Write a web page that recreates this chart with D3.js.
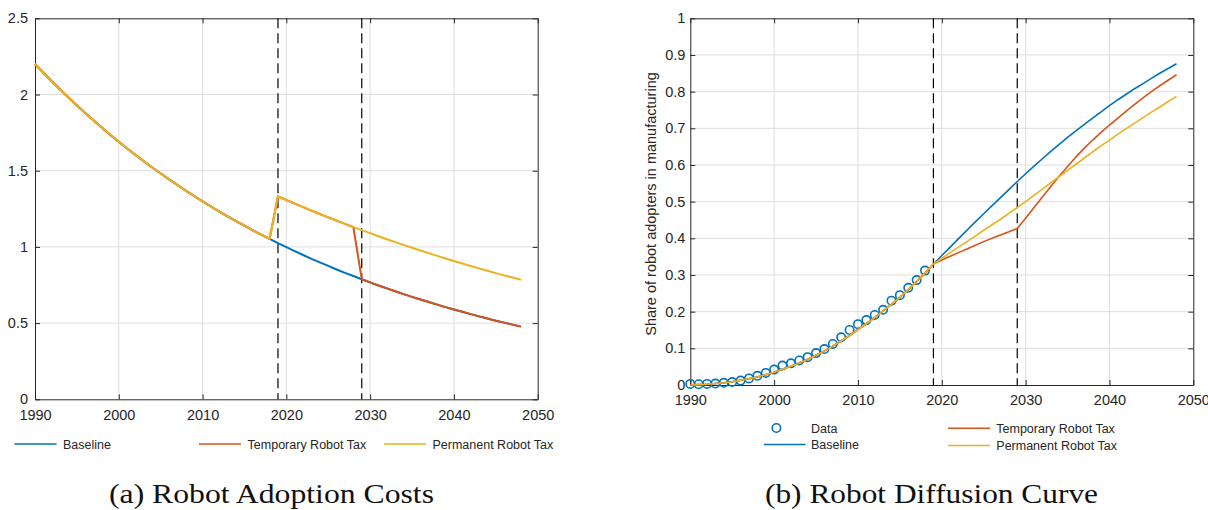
<!DOCTYPE html>
<html>
<head>
<meta charset="utf-8">
<script src="https://cdn.jsdelivr.net/npm/d3@7"></script>
<style>
  body { margin: 0; background: #fff; }
  svg { display: block; }
  text { font-family: "Liberation Sans", Arial, sans-serif; fill: #262626; }
  text.caption { font-family: "Liberation Serif", "DejaVu Serif", serif; fill: #111; }
</style>
</head>
<body>
<script>
// ---- data ----
var years = d3.range(1990, 2049);          // 1990 .. 2048
var dataYears = d3.range(1990, 2019);      // 1990 .. 2018
var xTicks = [1990, 2000, 2010, 2020, 2030, 2040, 2050];
var taxYears = [2019, 2029];

// (a) robot adoption costs
var costCommon = [2.200, 2.143, 2.087, 2.033, 1.980, 1.928, 1.878, 1.829, 1.782, 1.735,
                  1.690, 1.646, 1.604, 1.562, 1.521, 1.482, 1.443, 1.406, 1.369, 1.334,
                  1.299, 1.265, 1.232, 1.200, 1.169, 1.139, 1.109, 1.080, 1.052];
var costBaseline = costCommon.concat([1.025, 0.998, 0.972, 0.947, 0.922, 0.898, 0.875, 0.852, 0.830, 0.809,
                  0.788, 0.767, 0.747, 0.728, 0.709, 0.690, 0.672, 0.655, 0.638, 0.621,
                  0.605, 0.589, 0.574, 0.559, 0.544, 0.530, 0.516, 0.503, 0.490, 0.477]);
var costTemporary = costCommon.concat([1.332, 1.308, 1.284, 1.261, 1.238, 1.216, 1.194, 1.172, 1.151, 1.130,
                  0.788, 0.767, 0.747, 0.728, 0.709, 0.690, 0.672, 0.655, 0.638, 0.621,
                  0.605, 0.589, 0.574, 0.559, 0.544, 0.530, 0.516, 0.503, 0.490, 0.477]);
var costPermanent = costCommon.concat([1.332, 1.308, 1.284, 1.261, 1.238, 1.216, 1.194, 1.172, 1.151, 1.130,
                  1.110, 1.090, 1.070, 1.050, 1.031, 1.013, 0.994, 0.976, 0.959, 0.941,
                  0.924, 0.908, 0.891, 0.875, 0.859, 0.844, 0.828, 0.813, 0.799, 0.784]);
var costTicks = [0, 0.5, 1, 1.5, 2, 2.5];

// (b) robot diffusion curve
var shareData = [0.003, 0.002, 0.003, 0.004, 0.006, 0.008, 0.012, 0.018, 0.025, 0.033,
                 0.042, 0.053, 0.059, 0.067, 0.076, 0.087, 0.098, 0.112, 0.130, 0.150,
                 0.166, 0.177, 0.191, 0.205, 0.230, 0.245, 0.265, 0.286, 0.312];
var shareFit = [0.000, 0.001, 0.002, 0.004, 0.006, 0.009, 0.013, 0.017, 0.022, 0.028,
                0.035, 0.043, 0.051, 0.060, 0.070, 0.081, 0.093, 0.106, 0.120, 0.135,
                0.151, 0.167, 0.184, 0.202, 0.220, 0.239, 0.260, 0.282, 0.305];
var shareBaseline = shareFit.concat([0.330, 0.353, 0.376, 0.399, 0.422, 0.445, 0.467, 0.489, 0.511, 0.533,
                0.555, 0.576, 0.597, 0.617, 0.637, 0.656, 0.675, 0.693, 0.711, 0.728,
                0.745, 0.762, 0.778, 0.793, 0.808, 0.822, 0.836, 0.850, 0.863, 0.876]);
var shareTemporary = shareFit.concat([0.330, 0.341, 0.351, 0.361, 0.371, 0.381, 0.391, 0.400, 0.409, 0.418,
                0.427, 0.455, 0.484, 0.513, 0.541, 0.569, 0.596, 0.622, 0.646, 0.668,
                0.689, 0.709, 0.728, 0.747, 0.765, 0.783, 0.800, 0.816, 0.831, 0.846]);
var sharePermanent = shareFit.concat([0.330, 0.345, 0.361, 0.376, 0.391, 0.406, 0.422, 0.437, 0.452, 0.468,
                0.484, 0.500, 0.517, 0.534, 0.551, 0.568, 0.585, 0.602, 0.619, 0.636,
                0.652, 0.668, 0.684, 0.699, 0.714, 0.729, 0.744, 0.758, 0.773, 0.787]);
var shareTicks = [0, 0.1, 0.2, 0.3, 0.4, 0.5, 0.6, 0.7, 0.8, 0.9, 1];

var seriesNames = ["Baseline", "Temporary Robot Tax", "Permanent Robot Tax"];
var colors = ["#0072BD", "#D95319", "#EDB120"];

var svg = d3.select("body").append("svg")
    .attr("width", 1208)
    .attr("height", 510);

function drawPanel(p) {
  var x = d3.scaleLinear().domain([1990, 2050]).range([p.left, p.right]);
  var y = d3.scaleLinear().domain(p.yDomain).range([p.bottom, p.top]);
  var g = svg.append("g");

  // grid
  g.selectAll(".gx").data(xTicks.slice(1, -1)).enter().append("line")
    .attr("x1", d => x(d)).attr("x2", d => x(d))
    .attr("y1", p.top).attr("y2", p.bottom)
    .attr("stroke", "#dedede").attr("stroke-width", 1);
  g.selectAll(".gy").data(p.yTicks.slice(1, -1)).enter().append("line")
    .attr("x1", p.left).attr("x2", p.right)
    .attr("y1", d => y(d)).attr("y2", d => y(d))
    .attr("stroke", "#dedede").attr("stroke-width", 1);

  // axes (box, ticks inside on all sides)
  var tl = 5;
  g.append("g").attr("transform", "translate(0," + p.bottom + ")")
    .call(d3.axisBottom(x).tickValues(xTicks).tickSizeInner(-tl).tickSizeOuter(0).tickPadding(10).tickFormat(d3.format("d")));
  g.append("g").attr("transform", "translate(0," + p.top + ")")
    .call(d3.axisTop(x).tickValues(xTicks).tickSizeInner(-tl).tickSizeOuter(0).tickFormat(""));
  g.append("g").attr("transform", "translate(" + p.left + ",0)")
    .call(d3.axisLeft(y).tickValues(p.yTicks).tickSizeInner(-tl).tickSizeOuter(0).tickPadding(p.yPad).tickFormat(d => String(+d.toFixed(1))));
  g.append("g").attr("transform", "translate(" + p.right + ",0)")
    .call(d3.axisRight(y).tickValues(p.yTicks).tickSizeInner(-tl).tickSizeOuter(0).tickFormat(""));
  g.selectAll(".domain").attr("stroke", "#262626").attr("stroke-width", 1);
  g.selectAll(".tick line").attr("stroke", "#262626");
  g.selectAll(".tick text").attr("font-size", 14.5).attr("fill", "#262626");

  // dashed tax lines
  g.selectAll(".tax").data(taxYears).enter().append("line")
    .attr("x1", d => x(d)).attr("x2", d => x(d))
    .attr("y1", p.top).attr("y2", p.bottom)
    .attr("stroke", "#000").attr("stroke-width", 1.2)
    .attr("stroke-dasharray", "10,5");

  // markers, if any, go under the lines
  if (p.before) p.before(g, x, y);

  // series
  var line = d3.line().x((d, i) => x(years[i])).y(d => y(d));
  p.series.forEach(function (s, k) {
    g.append("path").datum(s)
      .attr("d", line)
      .attr("fill", "none")
      .attr("stroke", colors[k])
      .attr("stroke-width", p.lw)
      .attr("stroke-linejoin", "round");
  });
}

// ---- panel (a) ----
drawPanel({
  left: 35, right: 537.7, top: 18.3, bottom: 399.3,
  yDomain: [0, 2.5], yTicks: costTicks, yPad: 7, lw: 2,
  series: [costBaseline, costTemporary, costPermanent]
});

// ---- panel (b) ----
drawPanel({
  left: 690.3, right: 1193.3, top: 18.3, bottom: 385,
  yDomain: [0, 1], yTicks: shareTicks, yPad: 5, lw: 1.6,
  series: [shareBaseline, shareTemporary, sharePermanent],
  before: function (g, x, y) {
    g.append("g").selectAll("circle").data(shareData).enter().append("circle")
      .attr("cx", (d, i) => x(dataYears[i]))
      .attr("cy", d => y(d))
      .attr("r", 4.2)
      .attr("fill", "none")
      .attr("stroke", "#0072BD")
      .attr("stroke-width", 1.6);
  }
});

svg.append("text")
  .attr("transform", "translate(656,204) rotate(-90)")
  .attr("text-anchor", "middle")
  .attr("font-size", 14.5)
  .text("Share of robot adopters in manufacturing");

// ---- legends ----
var legA = [
  { x1: 14.5, x2: 56.6, tx: 63, y: 444 },
  { x1: 199, x2: 241, tx: 247.6, y: 444 },
  { x1: 384, x2: 426, tx: 432.5, y: 444 }
];
legA.forEach(function (l, k) {
  svg.append("line").attr("x1", l.x1).attr("x2", l.x2).attr("y1", l.y).attr("y2", l.y)
    .attr("stroke", colors[k]).attr("stroke-width", 1.6);
  svg.append("text").attr("x", l.tx).attr("y", l.y + 4.5).attr("font-size", 12.5).text(seriesNames[k]);
});

svg.append("circle").attr("cx", 776.4).attr("cy", 428).attr("r", 4.2)
  .attr("fill", "none").attr("stroke", "#0072BD").attr("stroke-width", 1.6);
svg.append("text").attr("x", 811).attr("y", 432.5).attr("font-size", 12.5).text("Data");
var legB = [
  { x1: 764, x2: 805.5, tx: 811, y: 444.5 },
  { x1: 948, x2: 990, tx: 996.3, y: 428.3 },
  { x1: 948, x2: 990, tx: 996.3, y: 445.5 }
];
legB.forEach(function (l, k) {
  svg.append("line").attr("x1", l.x1).attr("x2", l.x2).attr("y1", l.y).attr("y2", l.y)
    .attr("stroke", colors[k]).attr("stroke-width", 1.6);
  svg.append("text").attr("x", l.tx).attr("y", l.y + 4.5).attr("font-size", 12.5).text(seriesNames[k]);
});

// ---- captions ----
var captions = [
  { text: "(a) Robot Adoption Costs", x: 109, w: 325 },
  { text: "(b) Robot Diffusion Curve", x: 765, w: 333 }
];
captions.forEach(function (c) {
  svg.append("text")
    .attr("class", "caption")
    .attr("x", c.x).attr("y", 503)
    .attr("font-size", 27)
    .attr("textLength", c.w)
    .attr("lengthAdjust", "spacingAndGlyphs")
    .text(c.text);
});
</script>
</body>
</html>
